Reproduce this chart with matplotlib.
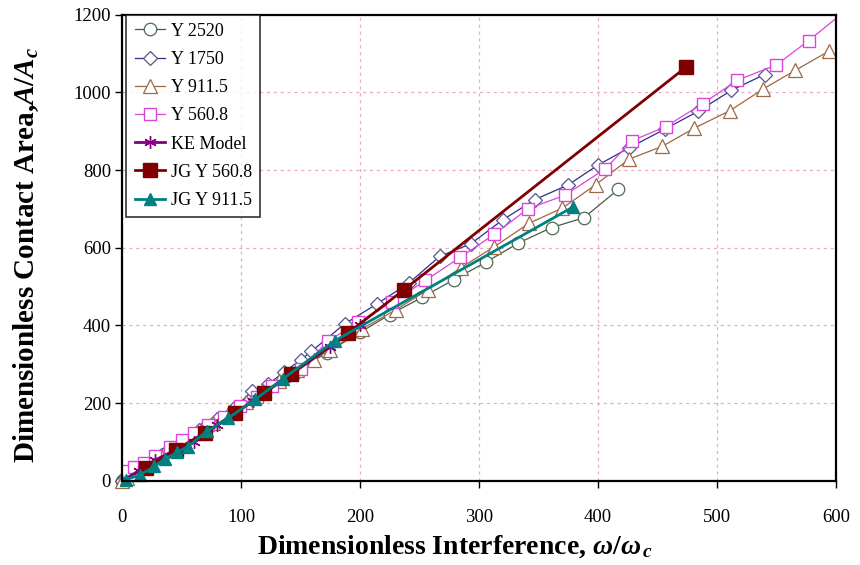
"""Dimensionless contact area vs dimensionless interference for several yield strengths."""

import matplotlib
matplotlib.use("Agg")
import matplotlib.pyplot as plt

plt.rcParams["font.family"] = ["Liberation Serif", "DejaVu Serif"]
plt.rcParams["mathtext.fontset"] = "custom"
plt.rcParams["mathtext.rm"] = "Liberation Serif:bold"
plt.rcParams["mathtext.it"] = "Liberation Serif:italic:bold"
plt.rcParams["mathtext.bf"] = "Liberation Serif:bold"

# ---------- data -----------------------------------------------------------

y2520_x = [0, 2, 5, 10, 20, 35, 50, 70, 95, 120, 145, 172, 200, 225, 252,
           279, 306, 333, 361, 388, 417]
y2520_y = [0, 4, 10, 20, 39, 68, 97, 136, 184, 231, 278, 330, 382, 428, 472,
           518, 563, 612, 652, 677, 750]

y1750_x = [0, 5, 12, 22, 35, 50, 65, 80, 95, 109, 123, 136, 150, 159, 187,
           214, 241, 267, 293, 320, 347, 375, 400, 426, 456, 484, 512, 540]
y1750_y = [0, 10, 24, 44, 70, 100, 130, 160, 190, 230, 249, 280, 311, 333, 404,
           455, 509, 578, 610, 672, 724, 762, 813, 857, 905, 951, 1005, 1046]

y911_x = [0, 4, 10, 20, 33, 47, 62, 76, 90, 104, 118, 132, 147, 161, 175,
          202, 230, 257, 285, 313, 342, 370, 398, 426, 454, 481, 511, 539,
          566, 594]
y911_y = [0, 8, 20, 40, 65, 92, 122, 150, 176, 203, 230, 257, 286, 312, 337,
          392, 440, 492, 549, 603, 663, 702, 762, 828, 861, 908, 953, 1009,
          1057, 1106]

y560_x = [0, 3, 10, 18, 28, 40, 50, 60, 72, 86, 99, 113, 126, 150, 173, 198,
          227, 255, 284, 313, 341, 372, 406, 429, 457, 488, 517, 550, 577, 610]
y560_y = [12, 24, 35, 45, 63, 88, 105, 123, 143, 163, 192, 217, 243, 289, 359,
          408, 460, 516, 575, 635, 700, 735, 803, 876, 912, 971, 1031, 1071,
          1133, 1215]

ke_x = [0, 14, 28, 44, 60, 80, 110, 140, 175, 200]
ke_y = [0, 26, 54, 78, 101, 143, 205, 270, 345, 400]

jg560_x = [20, 45, 70, 95, 119, 142, 190, 237, 474]
jg560_y = [33, 80, 124, 174, 226, 276, 381, 492, 1065]

jg911_x = [3, 15, 27, 36, 46, 55, 71, 89, 112, 135, 179, 379]
jg911_y = [3, 15, 37, 56, 73, 88, 127, 161, 210, 262, 361, 705]

x_ticks = [0, 100, 200, 300, 400, 500, 600]
y_ticks = [0, 200, 400, 600, 800, 1000, 1200]

# ---------- plot -----------------------------------------------------------

fig = plt.figure(figsize=(8.6, 5.65), dpi=100)
ax = fig.add_axes([0.142, 0.149, 0.830, 0.825])

ax.plot(y2520_x, y2520_y, "o-", color="#3f5f45", linewidth=0.9,
        markersize=9, markerfacecolor="white", markeredgecolor="#4f6a55",
        markeredgewidth=0.9, label="Y 2520", clip_on=False)
ax.plot(y1750_x, y1750_y, "D-", color="#2e2e86", linewidth=0.9,
        markersize=7, markerfacecolor="white", markeredgecolor="#56568f",
        markeredgewidth=0.9, label="Y 1750", clip_on=False)
ax.plot(y911_x, y911_y, "^-", color="#a0673f", linewidth=0.9,
        markersize=10, markerfacecolor="white", markeredgecolor="#9c6a48",
        markeredgewidth=0.9, label="Y 911.5", clip_on=False)
ax.plot(y560_x, y560_y, "s-", color="#dd44dd", linewidth=0.9,
        markersize=9, markerfacecolor="white",
        markeredgecolor="#dd44dd", markeredgewidth=1.0, label="Y 560.8")
ax.plot(ke_x, ke_y, color="#800080", linewidth=2.0, markersize=9,
        marker=(6, 2, 0), markeredgewidth=1.0, label="KE Model")
ax.plot(jg560_x, jg560_y, "s-", color="#800000", linewidth=2.0,
        markersize=10, label="JG Y 560.8", clip_on=False)
ax.plot(jg911_x, jg911_y, "^-", color="#008080", linewidth=2.0,
        markersize=9, label="JG Y 911.5", clip_on=False)

ax.set_xlim(0, 600)
ax.set_ylim(0, 1200)
ax.set_xticks(x_ticks)
ax.set_yticks(y_ticks)
ax.tick_params(labelsize=13.5, length=5, width=1.0, direction="out")
ax.tick_params(axis="x", pad=15)
ax.tick_params(axis="y", pad=3)
ax.grid(True, color="#f0a8c8", linestyle=(0, (2.5, 3)), linewidth=0.9)
ax.set_axisbelow(True)
for side in ("left", "bottom", "top", "right"):
    ax.spines[side].set_linewidth(1.6)
    ax.spines[side].set_color("black")

ax.set_xlabel(r"Dimensionless Interference, $\omega/\omega_{\,c}$",
              fontsize=20, fontweight="bold")
ax.xaxis.set_label_coords(0.466, -0.113)
ax.set_ylabel(r"Dimensionless Contact Area,$A/A_c$",
              fontsize=21, fontweight="bold")
ax.yaxis.set_label_coords(-0.113, 0.485)

leg = ax.legend(loc="upper left", bbox_to_anchor=(0.006, 1.0),
                borderaxespad=0, fontsize=13, frameon=True, fancybox=False,
                edgecolor="black", handlelength=1.7, handletextpad=0.3,
                labelspacing=0.62, borderpad=0.45)
leg.get_frame().set_linewidth(1.2)

fig.savefig("out.png", dpi=100, facecolor="white")
